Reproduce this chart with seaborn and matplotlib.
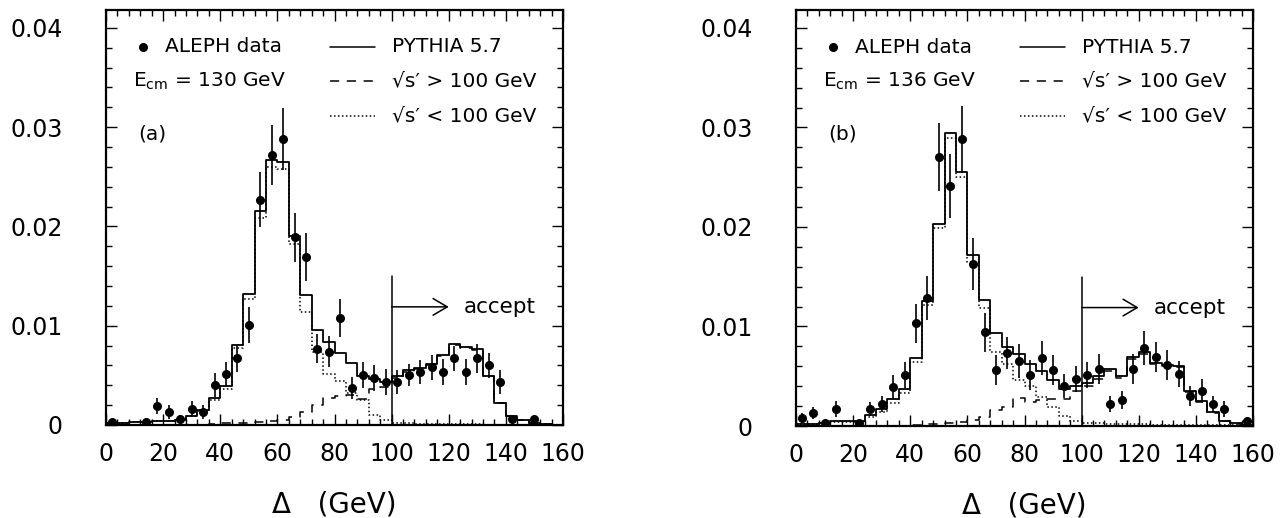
import numpy as np
import pandas as pd
import matplotlib
matplotlib.use("Agg")
import seaborn as sns
from matplotlib import pyplot as plt
from matplotlib.ticker import MultipleLocator, FuncFormatter

# 4 GeV bins from 0 to 160 GeV
EDGES = list(range(0, 164, 4))
CENTERS = [e + 2 for e in EDGES[:-1]]

# ---- panel (a): E_cm = 130 GeV ----
pythia_a = [0.0002, 0.0002, 0.0003, 0.0003, 0.0004, 0.0004, 0.0005, 0.0009,
            0.0015, 0.0027, 0.0039, 0.0081, 0.0132, 0.0216, 0.0267, 0.0265,
            0.0190, 0.0131, 0.0096, 0.0084, 0.0073, 0.0062, 0.0049, 0.0046,
            0.0043, 0.0049, 0.0055, 0.0057, 0.0061, 0.0071, 0.0082, 0.0079,
            0.0077, 0.0049, 0.0022, 0.0009, 0.0005, 0.0002, 0.0001, 0.0]
high_a = [0.0, 0.0, 0.0, 0.0, 0.0, 0.0, 0.0, 0.0,
          0.0, 0.0001, 0.0002, 0.0002, 0.0002, 0.0003, 0.0004, 0.0005,
          0.0008, 0.0013, 0.0020, 0.0027, 0.0029, 0.0030, 0.0026, 0.0036,
          0.0038, 0.0047, 0.0053, 0.0056, 0.0060, 0.0070, 0.0081, 0.0078,
          0.0076, 0.0049, 0.0022, 0.0009, 0.0005, 0.0002, 0.0001, 0.0]
low_a = [0.0002, 0.0002, 0.0003, 0.0003, 0.0004, 0.0004, 0.0005, 0.0009,
         0.0014, 0.0025, 0.0036, 0.0078, 0.0127, 0.0208, 0.0260, 0.0258,
         0.0182, 0.0114, 0.0074, 0.0051, 0.0044, 0.0032, 0.0025, 0.0010,
         0.0005, 0.0002, 0.0002, 0.0001, 0.0001, 0.0001, 0.0001, 0.0001,
         0.0001, 0.0, 0.0, 0.0, 0.0, 0.0, 0.0, 0.0]
data_x_a = [2, 14, 18, 22, 26, 30, 34, 38, 42, 46, 50, 54, 58, 62, 66, 70, 74,
            78, 82, 86, 90, 94, 98, 102, 106, 110, 114, 118, 122, 126, 130,
            134, 138, 142, 150]
data_y_a = [0.0003, 0.0003, 0.00195, 0.0013, 0.0006, 0.00165, 0.0013, 0.0040,
            0.0051, 0.0067, 0.0101, 0.0227, 0.0272, 0.0288, 0.0189, 0.0169,
            0.0077, 0.0074, 0.0108, 0.0037, 0.0050, 0.0047, 0.0043, 0.0043,
            0.0050, 0.0053, 0.0058, 0.0053, 0.0067, 0.0053, 0.0067, 0.0060,
            0.0043, 0.0006, 0.0006]
data_err_a = [0.0002, 0.0002, 0.0008, 0.0007, 0.0004, 0.0008, 0.0007, 0.0012,
              0.0012, 0.0014, 0.0018, 0.0028, 0.0030, 0.0031, 0.0025, 0.0024,
              0.0015, 0.0016, 0.0019, 0.0011, 0.0013, 0.0013, 0.0013, 0.0012,
              0.0011, 0.0012, 0.0013, 0.0013, 0.0013, 0.0013, 0.0015, 0.0013,
              0.0012, 0.0003, 0.0003]

# ---- panel (b): E_cm = 136 GeV ----
pythia_b = [0.0002, 0.0002, 0.0003, 0.0005, 0.0005, 0.0005, 0.0011, 0.0017,
            0.0027, 0.0037, 0.0068, 0.0126, 0.0203, 0.0294, 0.0255, 0.0172,
            0.0127, 0.0093, 0.0079, 0.0072, 0.0062, 0.0055, 0.0046, 0.0037,
            0.0040, 0.0043, 0.0050, 0.0057, 0.0050, 0.0069, 0.0074, 0.0063,
            0.0061, 0.0060, 0.0035, 0.0025, 0.0014, 0.0005, 0.0003, 0.0001]
high_b = [0.0, 0.0, 0.0, 0.0, 0.0, 0.0, 0.0, 0.0,
          0.0, 0.0, 0.0001, 0.0002, 0.0002, 0.0003, 0.0004, 0.0006,
          0.0009, 0.0016, 0.0019, 0.0028, 0.0024, 0.0026, 0.0027, 0.0027,
          0.0035, 0.0040, 0.0047, 0.0055, 0.0048, 0.0067, 0.0072, 0.0062,
          0.0060, 0.0059, 0.0034, 0.0024, 0.0013, 0.0005, 0.0002, 0.0001]
low_b = [0.0002, 0.0002, 0.0003, 0.0004, 0.0004, 0.0004, 0.0009, 0.0014,
         0.0023, 0.0033, 0.0064, 0.0122, 0.0199, 0.0289, 0.0250, 0.0165,
         0.0119, 0.0074, 0.0062, 0.0046, 0.0040, 0.0029, 0.0019, 0.0010,
         0.0005, 0.0003, 0.0003, 0.0002, 0.0002, 0.0002, 0.0002, 0.0001,
         0.0001, 0.0001, 0.0001, 0.0001, 0.0001, 0.0001, 0.0001, 0.0]
data_x_b = [2, 6, 10, 14, 22, 26, 30, 34, 38, 42, 46, 50, 54, 58, 62, 66, 70,
            74, 78, 82, 86, 90, 94, 98, 102, 106, 110, 114, 118, 122, 126,
            130, 134, 138, 142, 146, 150, 158]
data_y_b = [0.0008, 0.0013, 0.0003, 0.0017, 0.0003, 0.0017, 0.0022, 0.0039,
            0.0051, 0.0103, 0.0129, 0.0270, 0.0241, 0.0288, 0.0163, 0.0094,
            0.0056, 0.0073, 0.0065, 0.0051, 0.0068, 0.0056, 0.0040, 0.0047,
            0.0051, 0.0057, 0.0022, 0.0026, 0.0057, 0.0078, 0.0069, 0.0061,
            0.0052, 0.0030, 0.0035, 0.0022, 0.0017, 0.0005]
data_err_b = [0.0005, 0.0006, 0.0002, 0.0008, 0.0002, 0.0007, 0.0008, 0.0012,
              0.0013, 0.0020, 0.0022, 0.0034, 0.0032, 0.0034, 0.0026, 0.0020,
              0.0015, 0.0016, 0.0017, 0.0015, 0.0017, 0.0015, 0.0012, 0.0013,
              0.0013, 0.0015, 0.0008, 0.0009, 0.0015, 0.0017, 0.0015, 0.0015,
              0.0013, 0.0010, 0.0012, 0.0008, 0.0008, 0.0003]

CUT = 100        # GeV, selection cut
CUT_TOP = 0.015
ARROW_END = 120
ARROW_Y = 0.0119

sns.set_theme(style="ticks")
plt.rcParams['font.family'] = ['DejaVu Sans']
plt.rcParams['text.color'] = 'black'
plt.rcParams['axes.labelcolor'] = 'black'
plt.rcParams['mathtext.fontset'] = 'dejavusans'


def step_hist(ax, values, **kw):
    df = pd.DataFrame({"delta": CENTERS, "frac": values})
    sns.histplot(data=df, x="delta", weights="frac", bins=EDGES,
                 element="step", fill=False, color="black", ax=ax, **kw)


def draw_panel(ax, pythia, high, low, dx, dy, derr, energy, tag):
    step_hist(ax, low, linewidth=1.1, linestyle=(0, (1, 1.6)))
    step_hist(ax, high, linewidth=1.1, linestyle=(0, (6, 5)))
    step_hist(ax, pythia, linewidth=1.3)
    ax.errorbar(dx, dy, yerr=derr, fmt="o", color="black", ms=5.5,
                elinewidth=1.2, capsize=0, zorder=5)

    # selection cut and arrow
    ax.plot([CUT, CUT], [0, CUT_TOP], color="black", lw=1.1)
    ax.annotate("", xy=(ARROW_END, ARROW_Y), xytext=(CUT, ARROW_Y),
                arrowprops=dict(arrowstyle="->,head_length=0.85,head_width=0.5",
                                lw=1.1, color="black", shrinkA=0, shrinkB=0,
                                mutation_scale=12))
    ax.text(ARROW_END + 5.2, ARROW_Y, "accept", fontsize=15.5, va="center")

    # legend-like annotations
    t = ax.transAxes
    ax.plot([0.081], [0.911], "o", color="black", ms=5.5, transform=t)
    ax.text(0.129, 0.911, "ALEPH data", fontsize=14.5, va="center",
            transform=t)
    ax.text(0.059, 0.829, r"E$_{\mathregular{cm}}$ = %d GeV" % energy,
            fontsize=14.5, va="center", transform=t)
    ax.text(0.070, 0.701, "(%s)" % tag, fontsize=14.5, va="center",
            transform=t)
    samples = [(0.911, "-", "PYTHIA 5.7"),
               (0.829, (0, (6, 5)), "√s′ > 100 GeV"),
               (0.745, (0, (1, 1.6)), "√s′ < 100 GeV")]
    for yy, ls, label in samples:
        ax.plot([0.490, 0.589], [yy, yy], color="black", lw=1.1,
                linestyle=ls, transform=t)
        ax.text(0.626, yy, label, fontsize=14.5, va="center", transform=t)

    ax.set_xlim(0, 160)
    ax.set_ylim(0, 0.0418)
    ax.xaxis.set_major_locator(MultipleLocator(20))
    ax.xaxis.set_minor_locator(MultipleLocator(4))
    ax.yaxis.set_major_locator(MultipleLocator(0.01))
    ax.yaxis.set_minor_locator(MultipleLocator(0.002))
    ax.yaxis.set_major_formatter(
        FuncFormatter(lambda v, p: "0" if abs(v) < 1e-9 else "%.2f" % v))
    ax.tick_params(which="both", direction="in", top=True, right=True,
                   color="black", labelcolor="black")
    ax.tick_params(which="major", length=8, width=1.0, labelsize=17)
    ax.tick_params(axis="y", which="major", pad=31)
    ax.tick_params(axis="x", which="major", pad=12)
    ax.tick_params(which="minor", length=4, width=1.0)
    for s in ax.spines.values():
        s.set_linewidth(1.6)
        s.set_color("black")
    ax.set_ylabel("")
    ax.set_xlabel("Δ   (GeV)", fontsize=20, labelpad=18, color="black")
    ax.set_facecolor("white")


fig = plt.figure(figsize=(12.85, 5.18), dpi=100)
ax_a = fig.add_axes([106 / 1285, 93 / 518, 457 / 1285, 415 / 518])
ax_b = fig.add_axes([796 / 1285, 92 / 518, 457 / 1285, 416 / 518])

draw_panel(ax_a, pythia_a, high_a, low_a, data_x_a, data_y_a, data_err_a,
           130, "a")
draw_panel(ax_b, pythia_b, high_b, low_b, data_x_b, data_y_b, data_err_b,
           136, "b")

fig.savefig("out.png", dpi=100, facecolor="white")
